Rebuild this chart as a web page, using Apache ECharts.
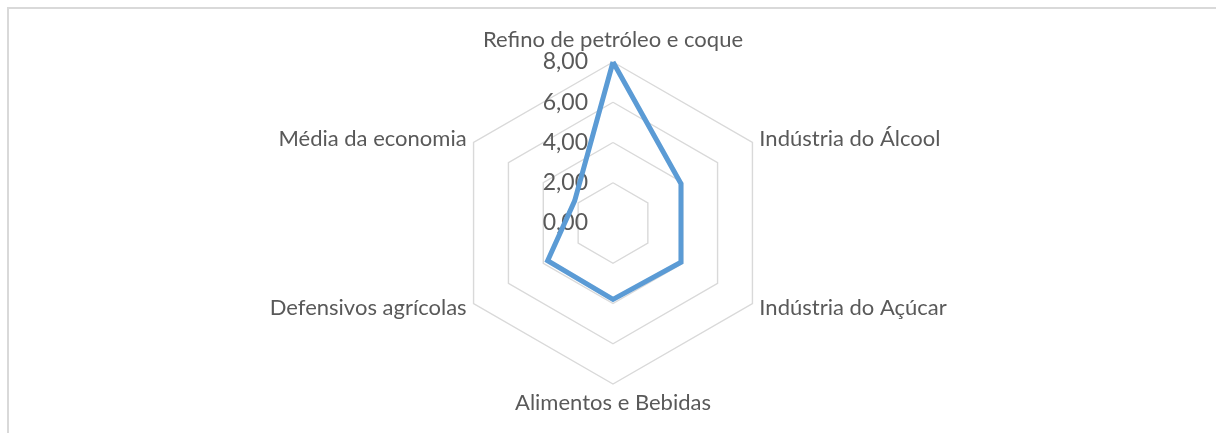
<!DOCTYPE html>
<html>
<head>
<meta charset="utf-8">
<script src="https://cdn.jsdelivr.net/npm/echarts@6/dist/echarts.min.js"></script>
<style>
    html, body { margin: 0; padding: 0; background: #fff; }
    #main { width: 1216px; height: 433px; }
</style>
</head>
<body>
<div id="main"></div>
<script>
// eixos do radar (sentido horário a partir do topo)
var categorias = ['Refino de petróleo e coque', 'Indústria do Álcool', 'Indústria do Açúcar',
    'Alimentos e Bebidas', 'Defensivos agrícolas', 'Média da economia'];
var valores = [8.0, 3.9, 3.9, 3.8, 3.75, 2.2];
var ticks = [0, 2, 4, 6, 8];

var myChart = echarts.init(document.getElementById('main'));

// o echarts desenha no sentido anti-horário, então inverte a ordem depois do primeiro
var ordem = [0];
for (var k = categorias.length - 1; k > 0; k--) {
    ordem.push(k);
}
var indicadores = [];
var dados = [];
for (var i = 0; i < ordem.length; i++) {
    indicadores[i] = { name: categorias[ordem[i]], min: ticks[0], max: ticks[ticks.length - 1] };
    dados[i] = valores[ordem[i]];
}
// só o primeiro eixo mostra os rótulos
indicadores[0].axisLabel = { show: true };

var option = {
    animation: false,
    graphic: [{
        type: 'rect',
        shape: { x: 8, y: 8, width: 1400, height: 600 },
        style: { fill: 'none', stroke: '#d9d9d9', lineWidth: 2 },
        silent: true
    }],
    radar: {
        center: [613, 223],
        radius: 161,
        startAngle: 90,
        shape: 'polygon',
        splitNumber: ticks.length - 1,
        nameGap: 8,
        indicator: indicadores,
        axisName: {
            color: '#595959',
            fontFamily: 'Lato',
            fontSize: 22
        },
        axisLine: { show: false },
        axisTick: { show: false },
        axisLabel: {
            show: false,
            color: '#595959',
            fontFamily: 'Lato',
            fontSize: 23,
            margin: 25,
            padding: [6, 0, 0, 0],
            formatter: function(value) {
                return value.toFixed(2).replace('.', ',');
            }
        },
        splitLine: {
            lineStyle: { color: '#d9d9d9', width: 1.4 }
        },
        splitArea: { show: false }
    },
    series: [{
        type: 'radar',
        symbol: 'none',
        lineStyle: { color: '#5b9bd5', width: 5, join: 'miter' },
        data: [{ value: dados, name: 'Série' }]
    }]
};
myChart.setOption(option);
</script>
</body>
</html>
